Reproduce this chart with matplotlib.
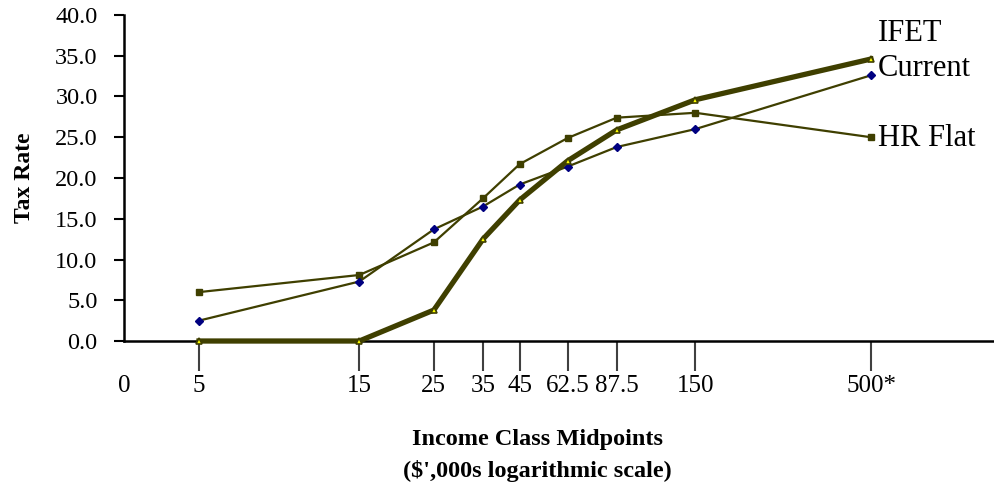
import matplotlib
matplotlib.use("Agg")
import matplotlib.pyplot as plt
from matplotlib.ticker import FixedLocator, FixedFormatter

plt.rcParams['font.family'] = ['Liberation Serif', 'DejaVu Serif']

midpoints = [5, 15, 25, 35, 45, 62.5, 87.5, 150, 500]
tick_labels = ['5', '15', '25', '35', '45', '62.5', '87.5', '150', '500*']
current = [2.5, 7.3, 13.7, 16.5, 19.2, 21.4, 23.8, 26.0, 32.6]
hr_flat = [6.0, 8.1, 12.1, 17.5, 21.7, 24.9, 27.4, 28.0, 25.0]
ifet = [0.0, 0.0, 3.8, 12.5, 17.3, 22.1, 25.9, 29.6, 34.6]
y_ticks = [0, 5, 10, 15, 20, 25, 30, 35, 40]

line_col = '#3f3f00'

fig = plt.figure(figsize=(9.94, 4.88), dpi=100)
ax = fig.add_axes([0.1247, 0.3012, 0.8753, 0.6681])

ax.plot(midpoints, hr_flat, color=line_col, lw=1.6, marker='s', ms=4,
        mfc=line_col, mec=line_col, clip_on=False, zorder=3)
ax.plot(midpoints, current, color=line_col, lw=1.6, marker='D', ms=4.5,
        mfc='#000080', mec='#000080', clip_on=False, zorder=3)
ax.plot(midpoints, ifet, color=line_col, lw=3.8, marker='^', ms=5,
        mfc='#ffff00', mec=line_col, mew=1.2, clip_on=False, zorder=4)

ax.set_xscale('log')
ax.set_xlim(2.99, 1161)
ax.set_ylim(0, 40)

ax.xaxis.set_major_locator(FixedLocator(midpoints))
ax.xaxis.set_major_formatter(FixedFormatter(tick_labels))
ax.xaxis.set_minor_locator(FixedLocator([2.99]))
ax.xaxis.set_minor_formatter(FixedFormatter(['0']))
ax.tick_params(axis='x', which='major', length=21.6, width=1.5, color='#404040',
               direction='out', labelsize=18, pad=3)
ax.tick_params(axis='x', which='minor', length=0, labelsize=18, pad=24.6)

ax.set_yticks(y_ticks)
ax.set_yticklabels([f'{v:.1f}' for v in y_ticks])
ax.tick_params(axis='y', length=7, width=1.5, direction='out', labelsize=17.5, pad=12)

for s in ['top', 'right']:
    ax.spines[s].set_visible(False)
for s in ['left', 'bottom']:
    ax.spines[s].set_linewidth(1.8)
    ax.spines[s].set_color('black')

ax.set_ylabel('Tax Rate', fontsize=17, fontweight='bold', labelpad=14)
fig.text(0.541, 0.100, 'Income Class Midpoints', ha='center', va='center',
         fontsize=17.5, fontweight='bold')
fig.text(0.541, 0.034, "($',000s logarithmic scale)", ha='center', va='center',
         fontsize=17.5, fontweight='bold')

ax.annotate('IFET', xy=(midpoints[-1], ifet[-1]), xytext=(7, 25),
            textcoords='offset pixels', fontsize=22, va='center', ha='left')
ax.annotate('Current', xy=(midpoints[-1], current[-1]), xytext=(7, 7),
            textcoords='offset pixels', fontsize=22, va='center', ha='left')
ax.annotate('HR Flat', xy=(midpoints[-1], hr_flat[-1]), xytext=(7, -1),
            textcoords='offset pixels', fontsize=22, va='center', ha='left')

fig.savefig('out.png', dpi=100)
